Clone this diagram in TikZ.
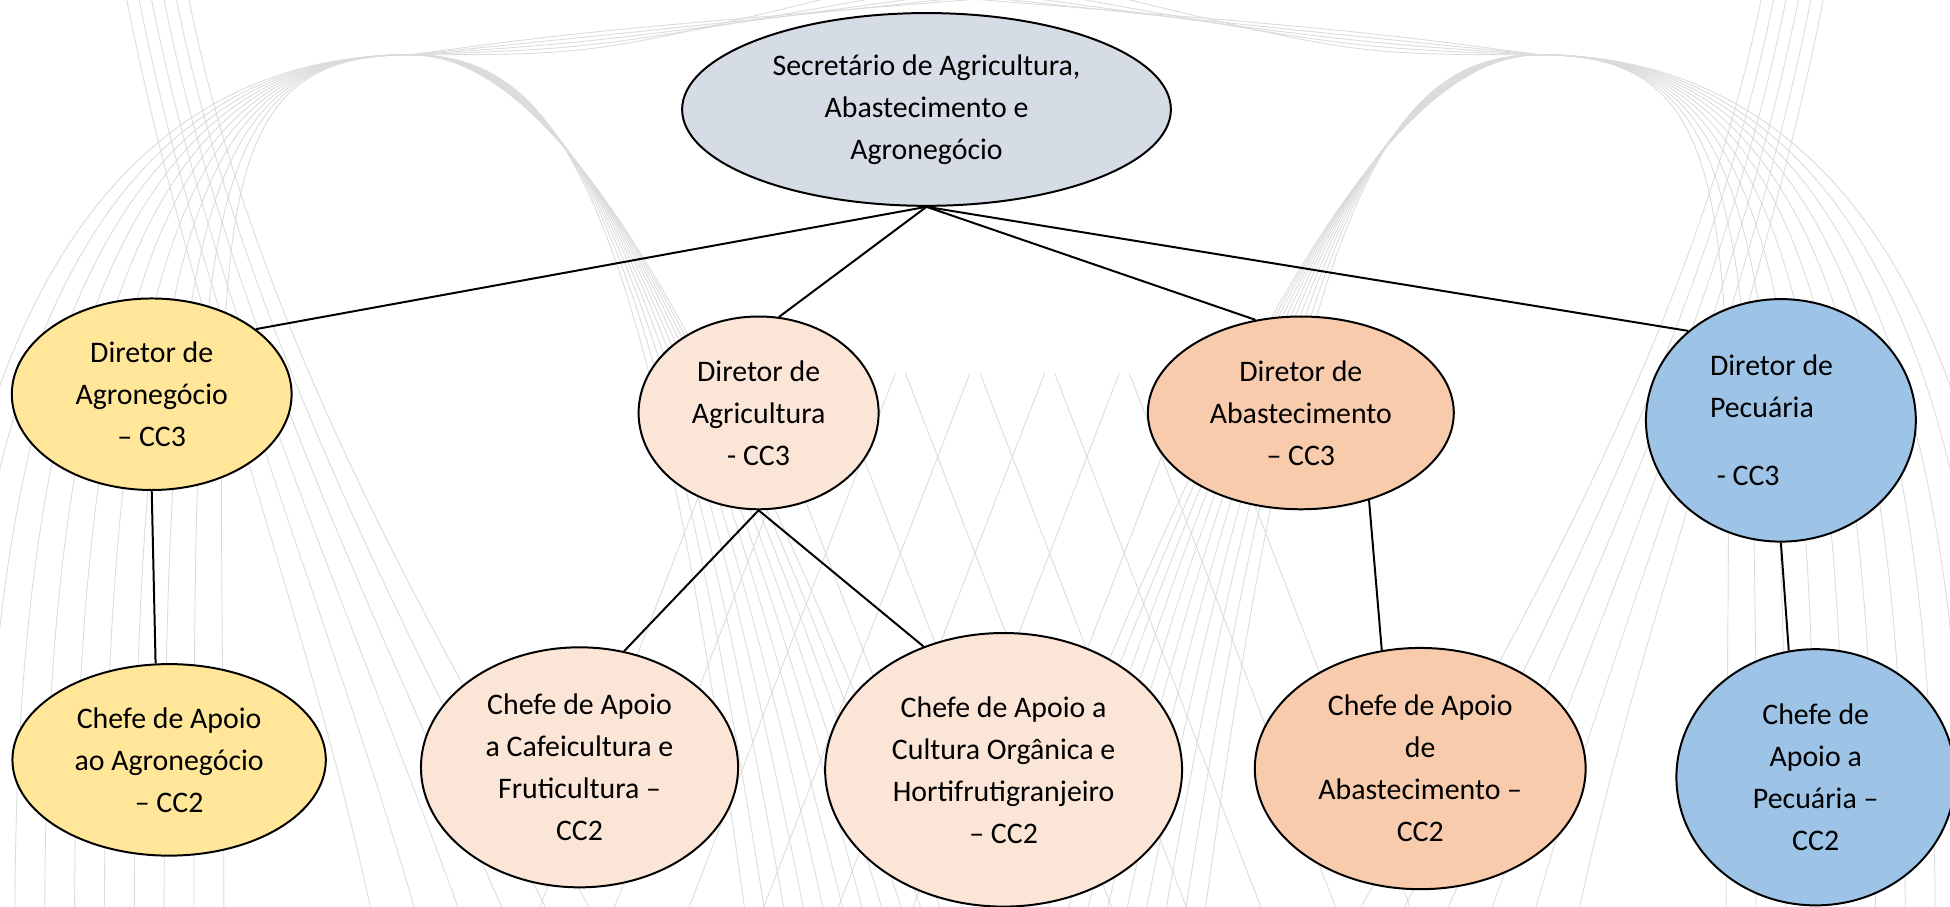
\documentclass[tikz,border=0pt]{standalone}
\usepackage{fontspec}
\setmainfont{Carlito}
\usetikzlibrary{shapes.geometric}
\definecolor{secfill}{HTML}{D6DCE5}
\definecolor{agrofill}{HTML}{FFE699}
\definecolor{agrifill}{HTML}{FBE5D6}
\definecolor{abafill}{HTML}{F8CBAD}
\definecolor{pecfill}{HTML}{9DC3E6}
\tikzset{cargonode/.style={ellipse,draw,line width=0.8pt,inner sep=0pt,align=center,font=\fontsize{12}{16.9}\selectfont}}
\tikzset{bgline/.style={gray!28,line width=0.35pt}}

\begin{document}
\begin{tikzpicture}[x=0.5pt,y=-0.5pt]

\useasboundingbox (0,0) rectangle (1568,729);
\fill[white] (0,0) rectangle (1568,729);

% background curves
\begin{scope}
\clip (0,0) rectangle (1568,729);
\foreach \mir in {1,-1} {
\begin{scope}[xshift={(1-\mir)*392pt},xscale=\mir]
\foreach \i in {0,...,10}
  \draw[bgline] ({-60+24*\i},740) .. controls ({-60+24*\i},{120+8*\i}) and ({190-4*\i},44) .. (330,44)
    .. controls (450,44) and ({520+6*\i},{150+12*\i}) .. ({600+16*\i},740);
\foreach \i in {0,...,4}
  \draw[bgline] (330,44) .. controls (480,{44-5*\i}) .. ({700+50*\i},-10);
\foreach \i in {0,...,5}
  \draw[bgline] ({100+10*\i},-10) .. controls ({150+10*\i},250) and ({250+18*\i},500) .. ({300+36*\i},740);
\foreach \i in {0,...,6}
  \draw[bgline] ({430+60*\i},740) -- ({600+60*\i},300);
\end{scope}
}
\end{scope}

% nodes
\node [style = cargonode, fill=secfill, minimum width=196.5pt, minimum height=77.5pt] (sec) at (745, 88) {Secretário de Agricultura,\\Abastecimento e\\Agronegócio};
\node [style = cargonode, fill=agrofill, minimum width=112.5pt, minimum height=77pt] (agro) at (122, 317) {Diretor de\\Agronegócio\\– CC3};
\node [style = cargonode, fill=agrifill, minimum width=96.5pt, minimum height=77.5pt] (agri) at (610, 332) {Diretor de\\Agricultura\\- CC3};
\node [style = cargonode, fill=abafill, minimum width=123pt, minimum height=77.5pt] (aba) at (1046, 332) {Diretor de\\Abastecimento\\– CC3};
\node [style = cargonode, fill=pecfill, minimum width=108.5pt, minimum height=97.5pt, align=left] (pec) at (1432, 338) {Diretor de\hspace*{7.5pt}\\Pecuária\\[10.7pt]\ - CC3};
\node [style = cargonode, fill=agrofill, minimum width=126pt, minimum height=77pt] (cagro) at (136, 611) {Chefe de Apoio\\ao Agronegócio\\– CC2};
\node [style = cargonode, fill=agrifill, minimum width=127.5pt, minimum height=96.5pt] (cafe) at (466, 617) {Chefe de Apoio\\a Cafeicultura e\\Fruticultura –\\CC2};
\node [style = cargonode, fill=agrifill, minimum width=143.5pt, minimum height=110pt] (org) at (807, 619) {Chefe de Apoio a\\Cultura Orgânica e\\Hortifrutigranjeiro\\– CC2};
\node [style = cargonode, fill=abafill, minimum width=133pt, minimum height=97pt] (caba) at (1142, 618) {Chefe de Apoio\\de\\Abastecimento –\\CC2};
\node [style = cargonode, fill=pecfill, minimum width=112pt, minimum height=103pt] (cpec) at (1460, 625) {Chefe de\\Apoio a\\Pecuária –\\CC2};

% edges
\draw [line width=0.8pt] (sec.south) to (agro.32);
\draw [line width=0.8pt] (sec.south) to (agri.78);
\draw [line width=0.8pt] (sec.south) to (aba.116);
\draw [line width=0.8pt] (sec.south) to (pec.136);
\draw [line width=0.8pt] (agro.south) to (cagro.98);
\draw [line width=0.8pt] (agri.south) to (cafe.69);
\draw [line width=0.8pt] (agri.south) to (org.123);
\draw [line width=0.8pt] (aba.-52) to (caba.108);
\draw [line width=0.8pt] (pec.south) to (cpec.102);
\end{tikzpicture}
\end{document}
